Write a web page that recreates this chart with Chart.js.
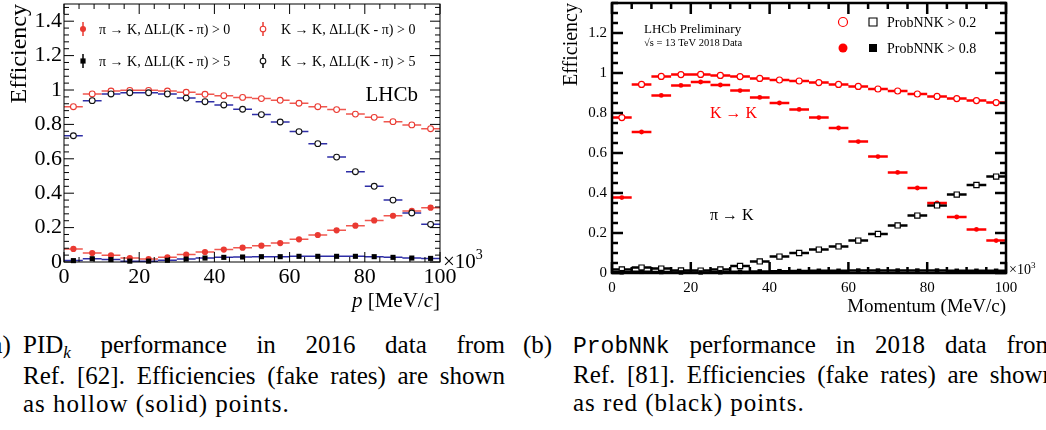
<!DOCTYPE html>
<html>
<head>
<meta charset="utf-8">
<script src="https://cdn.jsdelivr.net/npm/chart.js@4/dist/chart.umd.min.js"></script>
<style>
  html,body{margin:0;padding:0;background:#fff;}
  body{width:1046px;height:430px;overflow:hidden;position:relative;font-family:'Liberation Serif','Times New Roman',serif;color:#000;}
  #ca{position:absolute;left:0;top:0;}
  #cb{position:absolute;left:523px;top:0;}
  .lab{position:absolute;font-size:25px;line-height:28px;white-space:nowrap;}
  .body{position:absolute;font-size:25px;line-height:28px;}
  .j{text-align:justify;text-align-last:justify;white-space:nowrap;}
  .l3{letter-spacing:1px;white-space:nowrap;}
  .tt{font-family:'Liberation Mono','DejaVu Sans Mono',monospace;font-size:23px;}
  .sub{font-style:italic;font-size:17px;position:relative;top:5px;}
</style>
</head>
<body>
<canvas id="ca" width="523" height="320"></canvas>
<canvas id="cb" width="523" height="320"></canvas>

<div class="lab" style="left:-17px;top:331px;">(a)</div>
<div class="body" style="left:23px;top:331px;width:482px;">
  <div class="j">PID<span class="sub">k</span> performance in 2016 data from</div>
  <div class="j">Ref. [62]. Efficiencies (fake rates) are shown</div>
  <div class="l3">as hollow (solid) points.</div>
</div>
<div class="lab" style="left:523px;top:331px;">(b)</div>
<div class="body" style="left:573px;top:331px;width:482px;">
  <div class="j"><span class="tt">ProbNNk</span> performance in 2018 data from</div>
  <div class="j">Ref. [81]. Efficiencies (fake rates) are shown</div>
  <div class="l3">as red (black) points.</div>
</div>

<script>
// ---------------- data ----------------
const P_BINS = [2.5, 7.5, 12.5, 17.5, 22.5, 27.5, 32.5, 37.5, 42.5, 47.5, 52.5, 57.5, 62.5, 67.5, 72.5, 77.5, 82.5, 87.5, 92.5, 97.5];
const BIN_HALF_WIDTH = 2.5;

// (a) PID_k, 2016
const A_KK_DLL0  = [0.903, 0.977, 0.994, 0.998, 0.998, 0.994, 0.987, 0.975, 0.967, 0.957, 0.950, 0.940, 0.923, 0.903, 0.886, 0.860, 0.841, 0.816, 0.797, 0.775];
const A_KK_DLL5  = [0.734, 0.938, 0.977, 0.984, 0.984, 0.977, 0.953, 0.932, 0.913, 0.888, 0.857, 0.814, 0.758, 0.688, 0.610, 0.525, 0.440, 0.360, 0.285, 0.219];
const A_PIK_DLL0 = [0.076, 0.052, 0.039, 0.023, 0.017, 0.027, 0.043, 0.058, 0.072, 0.083, 0.095, 0.110, 0.132, 0.157, 0.184, 0.211, 0.242, 0.269, 0.297, 0.316];
const A_PIK_DLL5 = [0.008, 0.019, 0.014, 0.005, 0.005, 0.010, 0.017, 0.023, 0.027, 0.029, 0.031, 0.031, 0.033, 0.033, 0.033, 0.033, 0.031, 0.027, 0.023, 0.021];
const A_X_TICKS = [0, 20, 40, 60, 80, 100];
const A_Y_TICKS = [0, 0.2, 0.4, 0.6, 0.8, 1, 1.2, 1.4];

// (b) ProbNNk, 2018
const B_KK_NN02  = [0.777, 0.943, 0.983, 0.992, 0.993, 0.988, 0.982, 0.973, 0.965, 0.960, 0.952, 0.943, 0.933, 0.920, 0.910, 0.895, 0.883, 0.872, 0.862, 0.852];
const B_KK_NN08  = [0.377, 0.705, 0.888, 0.938, 0.955, 0.940, 0.912, 0.878, 0.850, 0.818, 0.777, 0.725, 0.657, 0.582, 0.503, 0.425, 0.350, 0.280, 0.218, 0.162];
const B_PIK_NN02 = [0.018, 0.027, 0.022, 0.013, 0.012, 0.018, 0.035, 0.058, 0.082, 0.100, 0.117, 0.133, 0.162, 0.195, 0.238, 0.287, 0.338, 0.392, 0.440, 0.482];
const B_PIK_NN08 = [0.004, 0.006, 0.005, 0.003, 0.003, 0.004, 0.006, 0.008, 0.009, 0.010, 0.011, 0.011, 0.012, 0.012, 0.012, 0.012, 0.012, 0.011, 0.011, 0.011];
const B_X_TICKS = [0, 20, 40, 60, 80, 100];
const B_Y_TICKS = [0, 0.2, 0.4, 0.6, 0.8, 1, 1.2];

// ---------------- helpers ----------------
const SERIF = "'Liberation Serif','Times New Roman',serif";
const pts = vals => P_BINS.map((x, i) => ({x: x, y: vals[i]}));
const fmt = v => String(Math.round(v * 100) / 100);

const errorBars = {
  id: 'errorBars',
  beforeDatasetsDraw(chart) {
    const {ctx, scales: {x, y}} = chart;
    ctx.save();
    chart.data.datasets.forEach((ds, i) => {
      if (!chart.isDatasetVisible(i)) return;
      ctx.strokeStyle = ds.errColor;
      ctx.lineWidth = ds.errWidth;
      ctx.beginPath();
      ds.data.forEach(p => {
        const py = y.getPixelForValue(p.y);
        ctx.moveTo(x.getPixelForValue(p.x - BIN_HALF_WIDTH), py);
        ctx.lineTo(x.getPixelForValue(p.x + BIN_HALF_WIDTH), py);
      });
      ctx.stroke();
    });
    ctx.restore();
  }
};

const frameTicks = {
  id: 'frameTicks',
  afterDatasetsDraw(chart, args, o) {
    const {ctx, chartArea: a, scales: {x, y}} = chart;
    ctx.save();
    ctx.strokeStyle = '#000';
    ctx.lineWidth = o.lw;
    ctx.beginPath();
    const isMajor = (v, m) => Math.abs(v / m - Math.round(v / m)) < 1e-6;
    for (let k = 0; ; k++) {
      const v = x.min + k * o.xMinor;
      if (v > x.max + 1e-9) break;
      const px = x.getPixelForValue(v);
      const L = isMajor(v, o.xMajor) ? o.major : o.minor;
      ctx.moveTo(px, a.bottom); ctx.lineTo(px, a.bottom - L);
      ctx.moveTo(px, a.top); ctx.lineTo(px, a.top + L);
    }
    for (let k = 0; ; k++) {
      const v = y.min + k * o.yMinor;
      if (v > y.max + 1e-9) break;
      const py = y.getPixelForValue(v);
      const L = isMajor(v, o.yMajor) ? o.major : o.minor;
      ctx.moveTo(a.left, py); ctx.lineTo(a.left + L, py);
      ctx.moveTo(a.right, py); ctx.lineTo(a.right - L, py);
    }
    ctx.stroke();
    ctx.strokeRect(a.left, a.top, a.right - a.left, a.bottom - a.top);
    ctx.restore();
  }
};

const decor = {
  id: 'decor',
  afterDraw(chart, args, o) {
    const ctx = chart.ctx;
    (o.markers || []).forEach(m => {
      ctx.save();
      if (m.bar) {
        ctx.strokeStyle = m.bar.color; ctx.lineWidth = m.bar.lw;
        ctx.beginPath(); ctx.moveTo(m.x, m.y - m.bar.half); ctx.lineTo(m.x, m.y + m.bar.half); ctx.stroke();
      }
      ctx.beginPath();
      if (m.style === 'circle') ctx.arc(m.x, m.y, m.r, 0, Math.PI * 2);
      else ctx.rect(m.x - m.r, m.y - m.r, 2 * m.r, 2 * m.r);
      ctx.fillStyle = m.fill; ctx.fill();
      if (m.stroke) { ctx.strokeStyle = m.stroke; ctx.lineWidth = m.lw; ctx.stroke(); }
      ctx.restore();
    });
    (o.texts || []).forEach(t => {
      ctx.save();
      ctx.fillStyle = t.color || '#000';
      ctx.textBaseline = 'alphabetic';
      ctx.textAlign = 'left';
      const runs = t.runs || [{text: t.text, font: t.font, dy: 0}];
      let total = 0;
      runs.forEach(r => { ctx.font = r.font; total += ctx.measureText(r.text).width; });
      let x = t.align === 'right' ? t.x - total : t.x;
      runs.forEach(r => {
        ctx.font = r.font;
        ctx.fillText(r.text, x, t.y + (r.dy || 0));
        x += ctx.measureText(r.text).width;
      });
      ctx.restore();
    });
  }
};

function scaleX(ticks, fontSize, pad, h, titleOpt) {
  return {
    type: 'linear', min: 0, max: 100,
    grid: {display: false, drawTicks: false}, border: {display: false},
    ticks: {font: {family: SERIF, size: fontSize, lineHeight: 1}, color: '#000', padding: pad,
            maxRotation: 0, minRotation: 0, autoSkip: false, callback: v => fmt(v)},
    title: titleOpt || {display: false},
    afterBuildTicks: s => { s.ticks = ticks.map(v => ({value: v})); },
    afterFit: s => { s.height = h; s.paddingLeft = 0; s.paddingRight = 0; }
  };
}
function scaleY(ticks, max, fontSize, pad, w, titleOpt) {
  return {
    type: 'linear', min: 0, max: max,
    grid: {display: false, drawTicks: false}, border: {display: false},
    ticks: {font: {family: SERIF, size: fontSize, lineHeight: 1}, color: '#000', padding: pad,
            autoSkip: false, callback: v => fmt(v)},
    title: titleOpt,
    afterBuildTicks: s => { s.ticks = ticks.map(v => ({value: v})); },
    afterFit: s => { s.width = w; s.paddingTop = 0; s.paddingBottom = 0; }
  };
}

// ---------------- chart (a) ----------------
const RED_A = '#ea3a32', RED_A_ERR = '#f0574f', BLUE_A = '#2e2ea6';
new Chart(document.getElementById('ca'), {
  type: 'scatter',
  data: {datasets: [
    {label: 'K \u2192 K, \u0394LL(K - \u03c0) > 5', data: pts(A_KK_DLL5), pointStyle: 'circle', pointRadius: 2.9,
     pointBorderWidth: 1.1, pointBackgroundColor: '#fff', pointBorderColor: '#111', errColor: BLUE_A, errWidth: 1.5, clip: false},
    {label: '\u03c0 \u2192 K, \u0394LL(K - \u03c0) > 5', data: pts(A_PIK_DLL5), pointStyle: 'rect', pointRadius: 3.6,
     pointBorderWidth: 0, pointBackgroundColor: '#000', pointBorderColor: '#000', errColor: BLUE_A, errWidth: 1.5, clip: false},
    {label: 'K \u2192 K, \u0394LL(K - \u03c0) > 0', data: pts(A_KK_DLL0), pointStyle: 'circle', pointRadius: 2.9,
     pointBorderWidth: 1.1, pointBackgroundColor: '#fff', pointBorderColor: RED_A, errColor: RED_A_ERR, errWidth: 1.5, clip: false},
    {label: '\u03c0 \u2192 K, \u0394LL(K - \u03c0) > 0', data: pts(A_PIK_DLL0), pointStyle: 'circle', pointRadius: 3.1,
     pointBorderWidth: 0, pointBackgroundColor: RED_A, pointBorderColor: RED_A, errColor: RED_A_ERR, errWidth: 1.5, clip: false}
  ]},
  options: {
    responsive: false, animation: false, events: [],
    layout: {autoPadding: false, padding: {left: 0, right: 83, top: 4, bottom: 0}},
    scales: {
      x: scaleX(A_X_TICKS, 22, 4.5, 58),
      y: scaleY(A_Y_TICKS, 1.5, 22, 2, 64,
        {display: true, text: 'Efficiency', align: 'end', color: '#000',
         font: {family: SERIF, size: 24, lineHeight: 1}, padding: {top: 8, bottom: 0}})
    },
    plugins: {
      legend: {display: false}, tooltip: {enabled: false},
      frameTicks: {lw: 1, major: 10, minor: 5, xMajor: 20, xMinor: 4, yMajor: 0.2, yMinor: 0.04},
      decor: {
        markers: [
          {x: 83, y: 29, style: 'circle', r: 3, fill: RED_A, bar: {half: 7, color: RED_A, lw: 1.5}},
          {x: 263, y: 29, style: 'circle', r: 2.8, fill: '#fff', stroke: RED_A, lw: 1.1, bar: {half: 7, color: RED_A, lw: 1.5}},
          {x: 83, y: 61, style: 'rect', r: 2.6, fill: '#000', bar: {half: 7, color: '#000', lw: 1.5}},
          {x: 263, y: 61, style: 'circle', r: 2.8, fill: '#fff', stroke: '#111', lw: 1.1, bar: {half: 7, color: '#000', lw: 1.5}}
        ],
        texts: [
          {x: 99, y: 34, font: '14px ' + SERIF, text: '\u03c0 \u2192 K, \u0394LL(K - \u03c0) > 0'},
          {x: 281, y: 34, font: '14px ' + SERIF, text: 'K \u2192 K, \u0394LL(K - \u03c0) > 0'},
          {x: 99, y: 66, font: '14px ' + SERIF, text: '\u03c0 \u2192 K, \u0394LL(K - \u03c0) > 5'},
          {x: 281, y: 66, font: '14px ' + SERIF, text: 'K \u2192 K, \u0394LL(K - \u03c0) > 5'},
          {x: 418, y: 101, align: 'right', font: '21px ' + SERIF, text: 'LHCb'},
          {x: 440, y: 307, align: 'right', runs: [
            {text: 'p', font: 'italic 21px ' + SERIF}, {text: ' [MeV/', font: '21px ' + SERIF},
            {text: 'c', font: 'italic 21px ' + SERIF}, {text: ']', font: '21px ' + SERIF}]},
          {x: 443, y: 268, runs: [
            {text: '\u00d710', font: '21px ' + SERIF}, {text: '3', font: '14px ' + SERIF, dy: -9}]}
        ]
      }
    }
  },
  plugins: [errorBars, frameTicks, decor]
});

// ---------------- chart (b) ----------------
const RED_B = '#ff0000';
new Chart(document.getElementById('cb'), {
  type: 'scatter',
  data: {datasets: [
    {label: '\u03c0 \u2192 K, ProbNNK > 0.8', data: pts(B_PIK_NN08), pointStyle: 'rect', pointRadius: 3.2,
     pointBorderWidth: 0, pointBackgroundColor: '#000', pointBorderColor: '#000', errColor: '#000', errWidth: 2.5, clip: false},
    {label: '\u03c0 \u2192 K, ProbNNK > 0.2', data: pts(B_PIK_NN02), pointStyle: 'rect', pointRadius: 3.7,
     pointBorderWidth: 1.2, pointBackgroundColor: '#fff', pointBorderColor: '#000', errColor: '#000', errWidth: 2.5, clip: false},
    {label: 'K \u2192 K, ProbNNK > 0.2', data: pts(B_KK_NN02), pointStyle: 'circle', pointRadius: 3,
     pointBorderWidth: 1.2, pointBackgroundColor: '#fff', pointBorderColor: RED_B, errColor: RED_B, errWidth: 2.5, clip: false},
    {label: 'K \u2192 K, ProbNNK > 0.8', data: pts(B_KK_NN08), pointStyle: 'circle', pointRadius: 2.4,
     pointBorderWidth: 0, pointBackgroundColor: RED_B, pointBorderColor: RED_B, errColor: RED_B, errWidth: 2.5, clip: false}
  ]},
  options: {
    responsive: false, animation: false, events: [],
    layout: {autoPadding: false, padding: {left: 0, right: 40, top: 3, bottom: 0}},
    scales: {
      x: scaleX(B_X_TICKS, 15, 7.5, 47,
        {display: true, text: 'Momentum (MeV/c)', align: 'end', color: '#000',
         font: {family: SERIF, size: 19, lineHeight: 1}, padding: {top: 0, bottom: 3.5}}),
      y: scaleY(B_Y_TICKS, 1.35, 15, 5, 89,
        {display: true, text: 'Efficiency', align: 'end', color: '#000',
         font: {family: SERIF, size: 20, lineHeight: 1}, padding: {top: 39, bottom: 0}})
    },
    plugins: {
      legend: {display: false}, tooltip: {enabled: false},
      frameTicks: {lw: 2.5, major: 11, minor: 6, xMajor: 20, xMinor: 5, yMajor: 0.2, yMinor: 0.05},
      decor: {
        markers: [
          {x: 320, y: 22, style: 'circle', r: 4.5, fill: '#fff', stroke: RED_B, lw: 1.2},
          {x: 350, y: 22, style: 'rect', r: 4, fill: '#fff', stroke: '#000', lw: 1.1},
          {x: 320, y: 48, style: 'circle', r: 4.5, fill: RED_B},
          {x: 350, y: 48, style: 'rect', r: 4, fill: '#000'}
        ],
        texts: [
          {x: 364, y: 27, font: '14px ' + SERIF, text: 'ProbNNK > 0.2'},
          {x: 364, y: 53, font: '14px ' + SERIF, text: 'ProbNNK > 0.8'},
          {x: 121, y: 33, font: '13px ' + SERIF, text: 'LHCb Preliminary'},
          {x: 121, y: 46, font: '10.5px ' + SERIF, text: '\u221as = 13 TeV 2018 Data'},
          {x: 187, y: 118, font: '16px ' + SERIF, color: RED_B, text: 'K \u2192 K'},
          {x: 187, y: 220, font: '16px ' + SERIF, text: '\u03c0 \u2192 K'},
          {x: 486, y: 274, runs: [
            {text: '\u00d710', font: '14px ' + SERIF}, {text: '3', font: '9px ' + SERIF, dy: -6}]}
        ]
      }
    }
  },
  plugins: [errorBars, frameTicks, decor]
});
</script>
</body>
</html>
